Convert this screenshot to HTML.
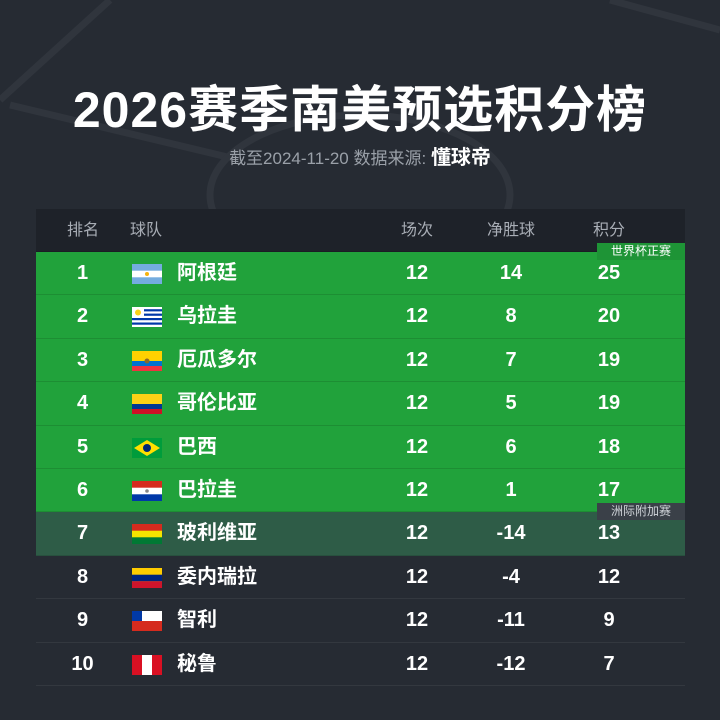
<!DOCTYPE html>
<html><head><meta charset="utf-8"><style>
*{margin:0;padding:0;box-sizing:border-box}
body{width:720px;height:720px;background:#262b33;position:relative;overflow:hidden;font-family:"Liberation Sans","Noto Sans CJK SC",sans-serif;color:#fff}
.t{position:absolute;left:0;width:720px;text-align:center}
#title{top:80px;font-size:50px;font-weight:bold;letter-spacing:1px;line-height:60px}
#sub{top:146px;font-size:17px;color:#9aa0a8;line-height:24px}
#sub b{color:#fff;font-size:20px}
#tbl{position:absolute;left:36px;top:209px;width:649px}
.row{position:relative;height:43.4px;font-size:20px;font-weight:bold;border-bottom:1px solid rgba(0,0,0,0.12)}
.row span{position:absolute;top:0;line-height:43px}
.hd{background:#1e2229;height:43px;font-weight:normal;font-size:16px;color:#a8adb5}
.g{background:#21a23b}
.p{background:#2e5c47}
.d{background:#262b33;border-bottom:1px solid #33383f}
.c1{left:34px;width:25px;text-align:center}
.c2{left:96px;width:30px}
.c3{left:141px}
.c4{left:361px;width:40px;text-align:center}
.c5{left:450px;width:50px;text-align:center}
.c6{left:553px;width:40px;text-align:center}
.hd .c2{left:94px;width:auto}
.flag{position:absolute;left:96px;top:12px;width:30px;height:20px}
.badge{position:absolute;right:0;width:88px;height:17px;font-size:12px;line-height:17px;text-align:center;font-weight:normal}
</style></head><body>
<svg width="720" height="720" style="position:absolute;left:0;top:0">
<g fill="none" stroke="#30353d" stroke-width="7">
<path d="M0 100 L110 0"/><path d="M10 105 L240 160"/><path d="M610 0 L720 30"/>
<ellipse cx="360" cy="195" rx="150" ry="80"/>
</g></svg>
<div class="t" id="title">2026赛季南美预选积分榜</div>
<div class="t" id="sub">截至2024-11-20 数据来源: <b>懂球帝</b></div>
<div id="tbl">
<div class="row hd"><span class="c1" style="left:27px;width:40px">排名</span><span class="c2">球队</span><span class="c4">场次</span><span class="c5" style="left:445px;width:60px">净胜球</span><span class="c6">积分</span></div>
<div class="row g"><div class="badge" style="top:-9px;background:#1e9436">世界杯正赛</div><span class="c1">1</span><svg class="flag"><rect width="30" height="20" fill="#74acdf"/><rect y="6.7" width="30" height="6.6" fill="#fff"/><circle cx="15" cy="10" r="2" fill="#f6b40e"/></svg><span class="c3">阿根廷</span><span class="c4">12</span><span class="c5">14</span><span class="c6">25</span></div>
<div class="row g"><span class="c1">2</span><svg class="flag"><rect width="30" height="20" fill="#fff"/><g fill="#0038a8"><rect y="2.2" width="30" height="2.2"/><rect y="6.6" width="30" height="2.2"/><rect y="11" width="30" height="2.2"/><rect y="15.5" width="30" height="2.2"/></g><rect width="12" height="11" fill="#fff"/><circle cx="6" cy="5.5" r="3" fill="#fcd116"/></svg><span class="c3">乌拉圭</span><span class="c4">12</span><span class="c5">8</span><span class="c6">20</span></div>
<div class="row g"><span class="c1">3</span><svg class="flag"><rect width="30" height="20" fill="#ffd100"/><rect y="10" width="30" height="5" fill="#0072ce"/><rect y="15" width="30" height="5" fill="#ef3340"/><circle cx="15" cy="10" r="2.5" fill="#8a6a2a"/></svg><span class="c3">厄瓜多尔</span><span class="c4">12</span><span class="c5">7</span><span class="c6">19</span></div>
<div class="row g"><span class="c1">4</span><svg class="flag"><rect width="30" height="20" fill="#fcd116"/><rect y="10" width="30" height="5" fill="#003893"/><rect y="15" width="30" height="5" fill="#ce1126"/></svg><span class="c3">哥伦比亚</span><span class="c4">12</span><span class="c5">5</span><span class="c6">19</span></div>
<div class="row g"><span class="c1">5</span><svg class="flag"><rect width="30" height="20" fill="#009c3b"/><polygon points="15,2 28,10 15,18 2,10" fill="#ffdf00"/><circle cx="15" cy="10" r="4" fill="#002776"/></svg><span class="c3">巴西</span><span class="c4">12</span><span class="c5">6</span><span class="c6">18</span></div>
<div class="row g"><span class="c1">6</span><svg class="flag"><rect width="30" height="20" fill="#fff"/><rect width="30" height="6.7" fill="#d52b1e"/><rect y="13.3" width="30" height="6.7" fill="#0038a8"/><circle cx="15" cy="10" r="1.8" fill="#888"/></svg><span class="c3">巴拉圭</span><span class="c4">12</span><span class="c5">1</span><span class="c6">17</span></div>
<div class="row p"><div class="badge" style="top:-9px;background:#3a4048;color:#cfd3d8">洲际附加赛</div><span class="c1">7</span><svg class="flag"><rect width="30" height="20" fill="#f4e400"/><rect width="30" height="6.7" fill="#d52b1e"/><rect y="13.3" width="30" height="6.7" fill="#007934"/></svg><span class="c3">玻利维亚</span><span class="c4">12</span><span class="c5">-14</span><span class="c6">13</span></div>
<div class="row d"><span class="c1">8</span><svg class="flag"><rect width="30" height="20" fill="#ffcc00"/><rect y="6.7" width="30" height="6.6" fill="#00247d"/><rect y="13.3" width="30" height="6.7" fill="#cf142b"/></svg><span class="c3">委内瑞拉</span><span class="c4">12</span><span class="c5">-4</span><span class="c6">12</span></div>
<div class="row d"><span class="c1">9</span><svg class="flag"><rect width="30" height="20" fill="#fff"/><rect y="10" width="30" height="10" fill="#d52b1e"/><rect width="10" height="10" fill="#0039a6"/></svg><span class="c3">智利</span><span class="c4">12</span><span class="c5">-11</span><span class="c6">9</span></div>
<div class="row d"><span class="c1">10</span><svg class="flag"><rect width="30" height="20" fill="#d91023"/><rect x="10" width="10" height="20" fill="#fff"/></svg><span class="c3">秘鲁</span><span class="c4">12</span><span class="c5">-12</span><span class="c6">7</span></div>
</div>
</body></html>
